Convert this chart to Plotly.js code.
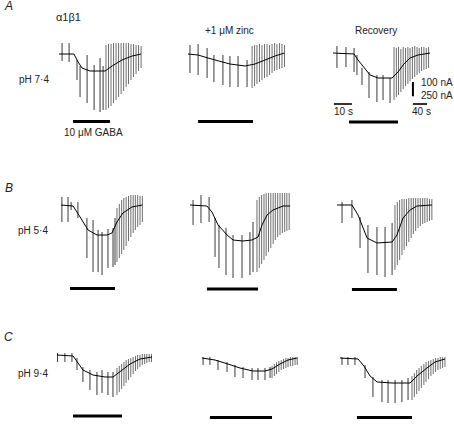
<!DOCTYPE html>
<html><head><meta charset="utf-8">
<script src="https://cdn.plot.ly/plotly-3.0.1.min.js"></script>
<style>html,body{margin:0;padding:0;background:#fff}#chart{width:454px;height:424px}</style>
</head><body><div id="chart"></div>
<script>
// ---- Data: time in s (chart time), current in nA (0 = holding baseline) ----
// A: pH 7.4
const A1_meanT = [0, 8.3, 10.6, 12.8, 17.2, 25.6, 29.5, 35, 40.6, 45.6];
const A1_meanI = [0, 0, -56, -98, -119, -119, -84, -42, -14, 0];
const A1_spkT = [1.7, 5.6, 10, 11.7, 15.6, 19.5, 22.8, 24.5];
const A1_spkTop = [77, 77, -42, -84, -7, -77, -28, -84];
const A1_spkBot = [-49, -56, -182, -301, -343, -392, -406, -392];
const A1_denseT = [26.1, 27.5, 28.9, 30.3, 31.7, 33.1, 34.5, 35.9, 37.3, 38.6, 40, 41.4, 42.8, 44.2, 45.6];
const A1_denseTop = [63, 70, 70, 77, 77, 77, 77, 77, 77, 77, 70, 70, 63, 63, 56];
const A1_denseBot = [-392, -378, -364, -343, -322, -301, -280, -259, -231, -210, -182, -161, -140, -119, -98];
const A1_gaba = [7.8, 28.3];

const A2_meanT = [0, 5.6, 11.1, 16.7, 23.3, 31.7, 37.2, 42.8, 48.3, 53.6];
const A2_meanI = [0, -7, -28, -49, -70, -84, -70, -42, -14, 7];
const A2_spkT = [1.1, 5.6, 10.6, 14.4, 19.4, 23.3, 27.8, 32.8];
const A2_spkTop = [63, 70, 42, -7, -7, -14, -14, -42];
const A2_spkBot = [-133, -147, -168, -196, -217, -231, -231, -231];
const A2_denseT = [35.6, 37, 38.3, 39.7, 41.1, 42.5, 43.9, 45.3, 46.7, 48.1, 49.4, 50.8, 52.2, 53.6];
const A2_denseTop = [56, 63, 63, 70, 63, 70, 70, 63, 70, 77, 70, 77, 70, 63];
const A2_denseBot = [-238, -224, -210, -196, -182, -168, -161, -147, -133, -119, -112, -105, -98, -91];
const A2_gaba = [5.6, 36.1];

const A3_meanT = [0, 11.7, 13.9, 17.2, 20.6, 25, 32.8, 36.1, 39.4, 42.8, 47.2, 53.9];
const A3_meanI = [0, -7, -49, -105, -154, -175, -175, -133, -77, -35, -14, 0];
const A3_spkT = [2.2, 7.2, 11.7, 13.3, 16.1, 20, 24.4, 27.8, 31.7];
const A3_spkTop = [49, 42, 35, -14, -105, -133, -154, -154, -175];
const A3_spkBot = [-105, -98, -133, -154, -224, -315, -343, -329, -350];
const A3_denseT = [33.9, 35.2, 36.4, 37.7, 39, 40.3, 41.6, 42.8, 44.1, 45.4, 46.7, 47.9, 49.2, 50.5, 51.8, 53.1];
const A3_denseTop = [42, 35, 42, 28, 42, 35, 42, 35, 42, 49, 42, 35, 42, 42, 35, 42];
const A3_denseBot = [-329, -308, -294, -273, -252, -231, -217, -196, -182, -168, -154, -140, -126, -119, -112, -105];
const A3_gaba = [8.9, 36.1];

// B: pH 5.4
const B1_meanT = [0, 6.7, 10.6, 15, 20, 25.6, 28.3, 31.1, 34.4, 39.4, 45.2];
const B1_meanI = [0, -7, -84, -175, -210, -210, -196, -119, -56, -14, 0];
const B1_spkT = [0.5, 3.9, 5.6, 9.4, 14.4, 17.8, 20.6, 22.8, 26.1, 28.9, 30];
const B1_spkTop = [56, 56, 21, 21, -91, -105, -175, -189, -168, -161, -91];
const B1_spkBot = [-119, -119, -35, -91, -371, -469, -469, -490, -441, -434, -420];
const B1_denseT = [31.1, 32.4, 33.7, 34.9, 36.2, 37.5, 38.8, 40.1, 41.3, 42.6, 43.9, 45.2];
const B1_denseTop = [-21, 7, 35, 49, 56, 63, 70, 70, 70, 70, 63, 63];
const B1_denseBot = [-399, -371, -343, -315, -287, -252, -224, -196, -175, -154, -140, -119];
const B1_gaba = [5, 30];

const B2_meanT = [0, 9.4, 12.2, 15.6, 20.6, 23.9, 29.4, 34.4, 37.8, 40, 42.8, 46.1, 51.7, 55.6];
const B2_meanI = [0, -7, -49, -140, -210, -245, -252, -245, -224, -140, -70, -35, -7, -7];
const B2_spkT = [1.7, 6.1, 10.6, 13.9, 16.1, 20, 23.9, 28.9, 33.3, 35];
const B2_spkTop = [35, 70, 56, -91, -140, -161, -210, -210, -189, -119];
const B2_spkBot = [-140, -126, -119, -364, -441, -490, -511, -511, -490, -469];
const B2_denseT = [37.2, 38.5, 39.8, 41.1, 42.3, 43.6, 44.9, 46.2, 47.4, 48.7, 50, 51.3, 52.6, 53.8, 55.1];
const B2_denseTop = [35, 56, 70, 77, 84, 84, 84, 84, 84, 84, 84, 84, 84, 84, 84];
const B2_denseBot = [-469, -441, -413, -385, -357, -329, -301, -273, -245, -224, -210, -196, -189, -182, -175];
const B2_gaba = [9.4, 37.8];

const B3_meanT = [0, 8.3, 11.7, 14.4, 16.7, 22.2, 30.6, 33.3, 36.7, 40.6, 44.4, 52.8];
const B3_meanI = [0, 0, -70, -161, -231, -266, -259, -210, -91, -35, -7, 0];
const B3_spkT = [2.8, 8.3, 12.8, 17.2, 22.2, 26.7, 30.6];
const B3_spkTop = [21, 35, -84, -140, -154, -154, -126];
const B3_spkBot = [-126, -91, -301, -476, -490, -504, -490];
const B3_denseT = [32.2, 33.5, 34.8, 36.1, 37.3, 38.6, 39.9, 41.2, 42.4, 43.7, 45, 46.3, 47.6, 48.8, 50.1, 51.4, 52.7];
const B3_denseTop = [0, 21, 35, 42, 42, 42, 49, 49, 49, 49, 49, 49, 49, 49, 49, 42, 42];
const B3_denseBot = [-455, -420, -385, -350, -315, -287, -259, -231, -203, -182, -161, -147, -133, -126, -119, -112, -105];
const B3_gaba = [8.3, 33.3];

// C: pH 9.4
const C1_meanT = [0, 8.9, 11.7, 14.4, 20, 26.7, 31.1, 35, 40.6, 46.1, 52.8];
const C1_meanI = [0, -7, -56, -105, -140, -154, -154, -119, -63, -28, -14];
const C1_spkT = [0.3, 4.4, 8.3, 11.1, 14.4, 18.3, 22.2, 25, 28.3, 31.1];
const C1_spkTop = [14, 14, 14, -21, -84, -105, -119, -105, -119, -119];
const C1_spkBot = [-49, -49, -49, -105, -189, -245, -280, -266, -280, -294];
const C1_denseT = [33.3, 34.6, 35.9, 37.2, 38.4, 39.7, 41, 42.3, 43.6, 44.8, 46.1, 47.4, 48.7, 49.9, 51.2, 52.5];
const C1_denseTop = [-91, -77, -63, -49, -35, -28, -21, -14, -7, 0, 0, 7, 7, 7, 7, 7];
const C1_denseBot = [-280, -259, -238, -217, -196, -175, -154, -133, -112, -98, -84, -70, -63, -56, -49, -49];
const C1_gaba = [8.9, 36.1];

const C2_meanT = [0, 7.2, 14.4, 21.1, 28.3, 35, 38.9, 43.3, 47.8, 52.9];
const C2_meanI = [0, -14, -42, -70, -91, -91, -77, -42, -14, 0];
const C2_spkT = [0.6, 4.4, 8.9, 13.9, 18.3, 22.8, 27.8, 31.1, 35, 37.8];
const C2_spkTop = [7, 7, -14, -28, -49, -63, -70, -70, -70, -63];
const C2_spkBot = [-49, -49, -84, -98, -133, -140, -154, -154, -154, -140];
const C2_denseT = [38.9, 40.2, 41.4, 42.7, 44, 45.3, 46.6, 47.8, 49.1, 50.4, 51.7, 52.9];
const C2_denseTop = [-56, -42, -28, -21, -14, -7, 0, 0, 7, 7, 7, 7];
const C2_denseBot = [-140, -126, -112, -98, -84, -77, -70, -63, -56, -56, -49, -49];
const C2_gaba = [4.4, 38.9];

const C3_meanT = [0, 10, 13.3, 16.7, 20.6, 28.9, 38.9, 42.8, 48.3, 52.8, 58.3];
const C3_meanI = [0, -7, -56, -126, -168, -175, -175, -126, -70, -28, -7];
const C3_spkT = [1.1, 4.4, 8.3, 13.9, 18.3, 23.3, 26.7, 30.6, 34.4, 37.8];
const C3_spkTop = [7, 7, 7, -49, -133, -154, -154, -154, -154, -140];
const C3_spkBot = [-49, -49, -49, -140, -273, -308, -315, -315, -308, -294];
const C3_denseT = [40, 41.3, 42.6, 43.9, 45.2, 46.6, 47.8, 49.2, 50.5, 51.8, 53.1, 54.4, 55.7, 57, 58.3];
const C3_denseTop = [-126, -105, -84, -70, -56, -42, -28, -21, -14, -7, 0, 0, 7, 7, 7];
const C3_denseBot = [-294, -273, -252, -231, -210, -189, -168, -147, -126, -112, -98, -84, -77, -70, -63];
const C3_gaba = [9.4, 40];

// Scale bars
const scaleSec = 10, scaleSecFast = 40, fastSpeedRatio = 5.1, scaleNA = 100;
const rowLabels = ['pH 7·4', 'pH 5·4', 'pH 9·4'];
const panelLetters = ['A', 'B', 'C'];
const colTitles = ['+1 μM zinc', 'Recovery'];

// ---- Layout ----
const W = 454, H = 424, PX_PER_S = 1.8, NA_PER_PX = 7;
const FONT = 'Liberation Sans, Arial, Helvetica, sans-serif';
const TXT = '#222';

const panels = [
  {ox:59,  oy:54,  mT:A1_meanT, mI:A1_meanI, sT:A1_spkT, sTop:A1_spkTop, sBot:A1_spkBot, dT:A1_denseT, dTop:A1_denseTop, dBot:A1_denseBot, gaba:A1_gaba, barY:121.5},
  {ox:188, oy:54,  mT:A2_meanT, mI:A2_meanI, sT:A2_spkT, sTop:A2_spkTop, sBot:A2_spkBot, dT:A2_denseT, dTop:A2_denseTop, dBot:A2_denseBot, gaba:A2_gaba, barY:121.5},
  {ox:333, oy:53,  mT:A3_meanT, mI:A3_meanI, sT:A3_spkT, sTop:A3_spkTop, sBot:A3_spkBot, dT:A3_denseT, dTop:A3_denseTop, dBot:A3_denseBot, gaba:A3_gaba, barY:122},
  {ox:61,  oy:205, mT:B1_meanT, mI:B1_meanI, sT:B1_spkT, sTop:B1_spkTop, sBot:B1_spkBot, dT:B1_denseT, dTop:B1_denseTop, dBot:B1_denseBot, gaba:B1_gaba, barY:288.5},
  {ox:190, oy:205, mT:B2_meanT, mI:B2_meanI, sT:B2_spkT, sTop:B2_spkTop, sBot:B2_spkBot, dT:B2_denseT, dTop:B2_denseTop, dBot:B2_denseBot, gaba:B2_gaba, barY:289},
  {ox:337, oy:205, mT:B3_meanT, mI:B3_meanI, sT:B3_spkT, sTop:B3_spkTop, sBot:B3_spkBot, dT:B3_denseT, dTop:B3_denseTop, dBot:B3_denseBot, gaba:B3_gaba, barY:289.5},
  {ox:57,  oy:355, mT:C1_meanT, mI:C1_meanI, sT:C1_spkT, sTop:C1_spkTop, sBot:C1_spkBot, dT:C1_denseT, dTop:C1_denseTop, dBot:C1_denseBot, gaba:C1_gaba, barY:416},
  {ox:202, oy:358, mT:C2_meanT, mI:C2_meanI, sT:C2_spkT, sTop:C2_spkTop, sBot:C2_spkBot, dT:C2_denseT, dTop:C2_denseTop, dBot:C2_denseBot, gaba:C2_gaba, barY:417.5},
  {ox:340, oy:358, mT:C3_meanT, mI:C3_meanI, sT:C3_spkT, sTop:C3_spkTop, sBot:C3_spkBot, dT:C3_denseT, dTop:C3_denseTop, dBot:C3_denseBot, gaba:C3_gaba, barY:417.5}
];

function segs(ts, tops, bots) {
  const x = [], y = [];
  ts.forEach((t, k) => { x.push(t, t, null); y.push(tops[k], bots[k], null); });
  return {x, y};
}
const py = v => 1 - v / H;
const pxx = v => v / W;

const layout = {
  width: W, height: H, margin: {l:0, r:0, t:0, b:0},
  paper_bgcolor: '#fff', plot_bgcolor: 'rgba(0,0,0,0)', showlegend: false,
  shapes: [], annotations: []
};
const data = [];

panels.forEach((p, i) => {
  const n = i === 0 ? '' : String(i + 1);
  const left = p.ox - 8, right = Math.min(p.ox + 112, W);
  const top = Math.max(p.oy - 25, 0), bottom = Math.min(p.oy + 90, H);
  layout['xaxis' + n] = {domain:[left / W, right / W], range:[(left - p.ox) / PX_PER_S, (right - p.ox) / PX_PER_S],
    visible:false, fixedrange:true, anchor:'y' + n};
  layout['yaxis' + n] = {domain:[py(bottom), py(top)], range:[-(bottom - p.oy) * NA_PER_PX, (p.oy - top) * NA_PER_PX],
    visible:false, fixedrange:true, anchor:'x' + n};
  const xa = 'x' + n, ya = 'y' + n;
  const d = segs(p.dT, p.dTop, p.dBot);
  data.push({type:'scatter', mode:'lines', x:d.x, y:d.y, xaxis:xa, yaxis:ya, hoverinfo:'skip',
    line:{color:'#5e5e5e', width:0.9}});
  const s = segs(p.sT, p.sTop, p.sBot);
  data.push({type:'scatter', mode:'lines', x:s.x, y:s.y, xaxis:xa, yaxis:ya, hoverinfo:'skip',
    line:{color:'#222', width:0.9}});
  data.push({type:'scatter', mode:'lines', x:p.mT, y:p.mI, xaxis:xa, yaxis:ya, hoverinfo:'skip',
    line:{color:'#000', width:1}});
  // GABA application bar
  layout.shapes.push({type:'line', xref:xa, yref:'paper', x0:p.gaba[0], x1:p.gaba[1],
    y0:py(p.barY), y1:py(p.barY), line:{color:'#000', width:3.2}});
});

// Scale bars (drawn in panel A3's axes)
const sx0 = 0.5, sxFast = 44.4;
layout.shapes.push({type:'line', xref:'x3', yref:'paper', x0:sx0, x1:sx0 + scaleSec, y0:py(104), y1:py(104), line:{color:'#000', width:1.6}});
layout.shapes.push({type:'line', xref:'x3', yref:'paper', x0:sxFast, x1:sxFast + scaleSecFast / fastSpeedRatio, y0:py(104), y1:py(104), line:{color:'#000', width:1.6}});
layout.shapes.push({type:'line', xref:'x3', yref:'y3', x0:sxFast, x1:sxFast, y0:-203, y1:-203 - scaleNA, line:{color:'#000', width:2}});

function ann(text, x, y, opts) {
  layout.annotations.push(Object.assign({text, xref:'paper', yref:'paper', x:pxx(x), y:py(y),
    xanchor:'center', yanchor:'middle', showarrow:false,
    font:{family:FONT, size:10, color:TXT}}, opts || {}));
}
// panel letters
ann(panelLetters[0], 8, 6, {font:{family:FONT, size:12, color:TXT, style:'italic'}});
ann(panelLetters[1], 9, 188, {font:{family:FONT, size:12, color:TXT, style:'italic'}});
ann(panelLetters[2], 8, 337, {font:{family:FONT, size:12, color:TXT, style:'italic'}});
// subunit label
ann('α1β1', 68, 17, {font:{family:FONT, size:11, color:TXT}});
// row labels
ann(rowLabels[0], 34, 80);
ann(rowLabels[1], 33, 230);
ann(rowLabels[2], 33, 373);
// column titles
ann(colTitles[0], 229, 30);
ann(colTitles[1], 376, 30);
// GABA label
ann('10 μM GABA', 93, 132);
// scale labels
ann(scaleSec + ' s', 343, 112);
ann(scaleSecFast + ' s', 421, 112);
ann(scaleNA + ' nA', 419, 82, {xanchor:'left'});
ann('250 nA', 419, 95, {xanchor:'left'});

Plotly.newPlot('chart', data, layout, {staticPlot:true, displayModeBar:false});
</script></body></html>
